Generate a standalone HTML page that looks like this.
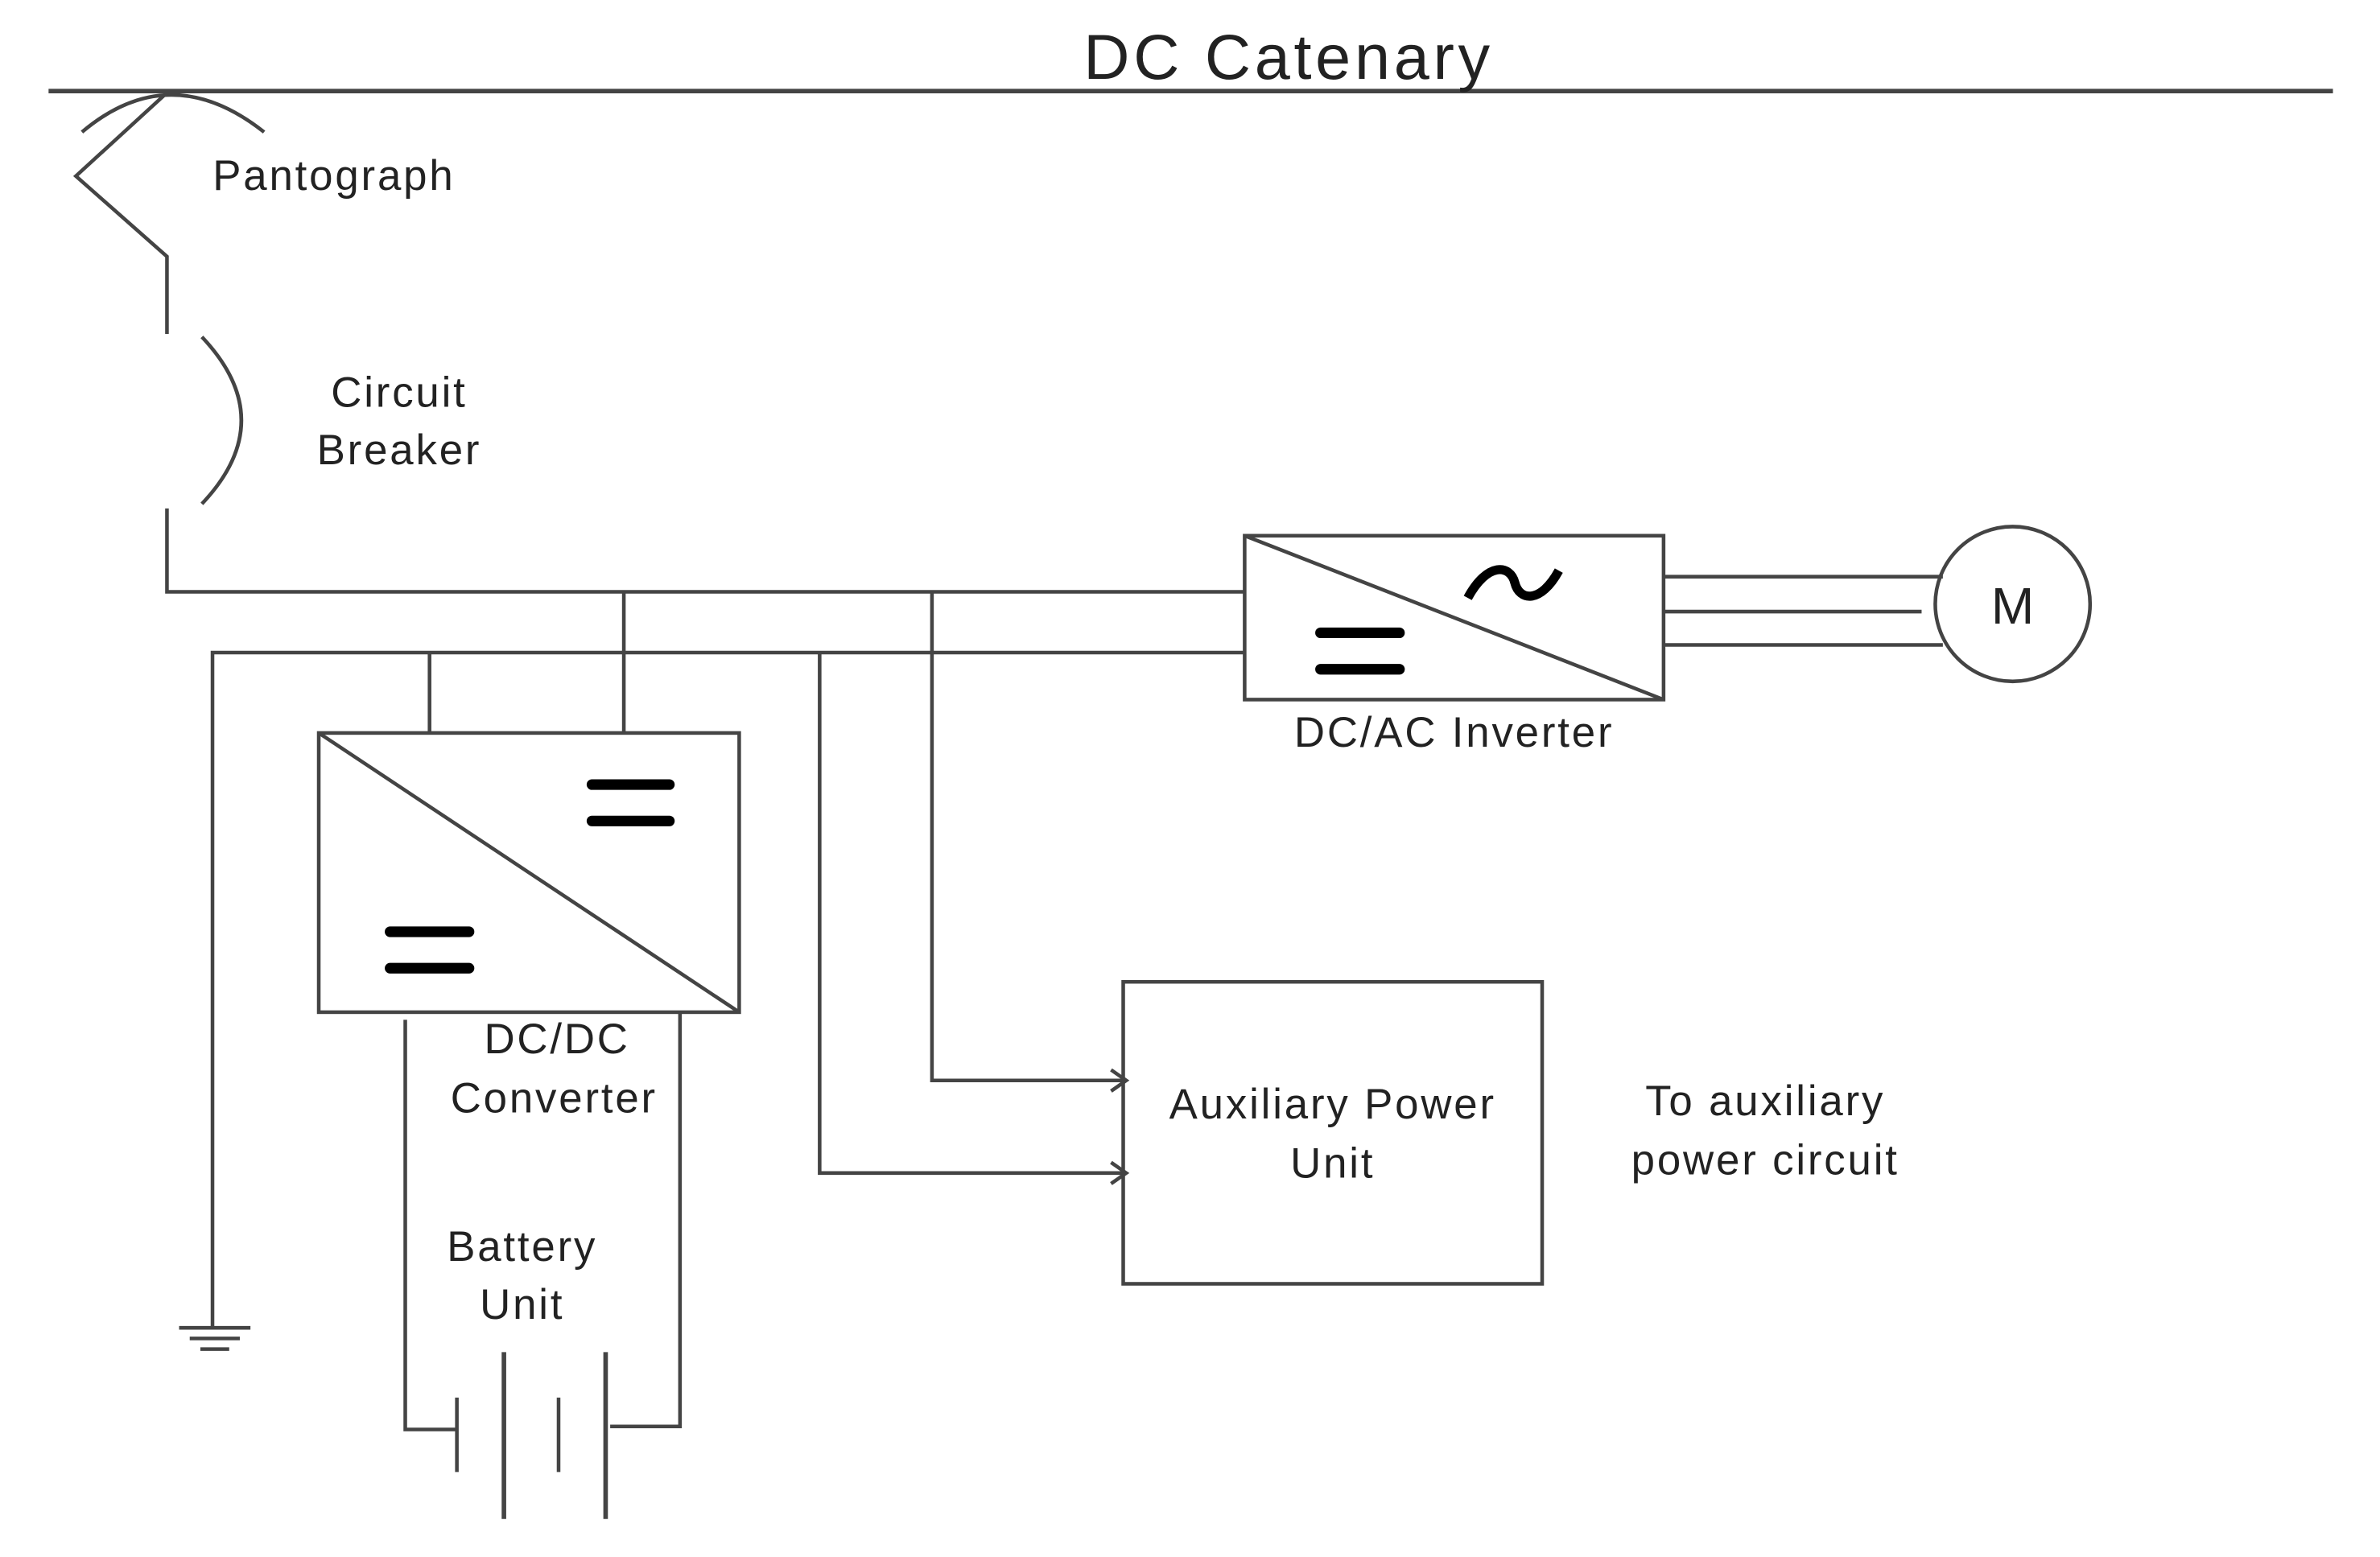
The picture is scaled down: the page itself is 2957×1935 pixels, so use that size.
<!DOCTYPE html>
<html><head><style>html,body{margin:0;padding:0;background:#fff}svg{display:block}</style></head>
<body>
<svg width="2957" height="1935" viewBox="0 0 1568 1026" xmlns="http://www.w3.org/2000/svg">
<g stroke="#444" stroke-width="2.4" fill="none">
<line x1="32" y1="60" x2="1537" y2="60" stroke-width="3"/>
<path d="M54 87 Q112 38 174 87"/>
<polyline points="109,62 50,116 110,169 110,220"/>
<path d="M133 222 Q185 277 133 332"/>
<polyline points="110,335 110,390 820,390"/>
<polyline points="140,875 140,430 820,430"/>
<line x1="118" y1="875" x2="165" y2="875"/>
<line x1="125" y1="882" x2="158" y2="882"/>
<line x1="132" y1="889" x2="151" y2="889"/>
<line x1="283" y1="430" x2="283" y2="483"/>
<line x1="411" y1="390" x2="411" y2="483"/>
<rect x="210" y="483" width="277" height="184"/>
<line x1="210" y1="483" x2="487" y2="667"/>
<polyline points="267,672 267,942 302,942"/>
<polyline points="448,667 448,940 402,940"/>
<line x1="301" y1="921" x2="301" y2="970"/>
<line x1="332" y1="891" x2="332" y2="1001" stroke-width="3"/>
<line x1="368" y1="921" x2="368" y2="970"/>
<line x1="399" y1="891" x2="399" y2="1001" stroke-width="3"/>
<rect x="820" y="353" width="276" height="108"/>
<line x1="820" y1="353" x2="1096" y2="461"/>
<line x1="1096" y1="380" x2="1280" y2="380"/>
<line x1="1096" y1="403" x2="1266" y2="403"/>
<line x1="1096" y1="425" x2="1280" y2="425"/>
<circle cx="1326" cy="398" r="51"/>
<polyline points="614,390 614,712 742,712"/>
<polyline points="540,430 540,773 742,773"/>
<polyline points="732,705 742,712 732,719"/>
<polyline points="732,766 742,773 732,780"/>
<rect x="740" y="647" width="276" height="199"/>
</g>
<g stroke="#000" stroke-width="7" stroke-linecap="round">
<line x1="390" y1="517" x2="441" y2="517"/><line x1="390" y1="541" x2="441" y2="541"/>
<line x1="257" y1="614" x2="309" y2="614"/><line x1="257" y1="638" x2="309" y2="638"/>
<line x1="870" y1="417" x2="922" y2="417"/><line x1="870" y1="441" x2="922" y2="441"/>
</g>
<path d="M967 394 C980 370 995 372 998 384 C1001 396 1015 398 1027 376" stroke="#000" stroke-width="6" fill="none"/>
<g font-family="Liberation Sans, sans-serif" fill="#222" font-size="28" letter-spacing="1.5" text-anchor="middle">
<text x="849" y="52" font-size="42" letter-spacing="2.5">DC Catenary</text>
<text x="220" y="125">Pantograph</text>
<text x="263" y="268">Circuit</text>
<text x="263" y="306">Breaker</text>
<text x="958" y="492">DC/AC Inverter</text>
<text x="367" y="694">DC/DC</text>
<text x="365" y="733">Converter</text>
<text x="344" y="831">Battery</text>
<text x="344" y="869">Unit</text>
<text x="878" y="737">Auxiliary Power</text>
<text x="878" y="776">Unit</text>
<text x="1163" y="735">To auxiliary</text>
<text x="1163" y="774">power circuit</text>
<text x="1326" y="411" font-size="34" letter-spacing="0">M</text>
</g>
</svg>
</body></html>
